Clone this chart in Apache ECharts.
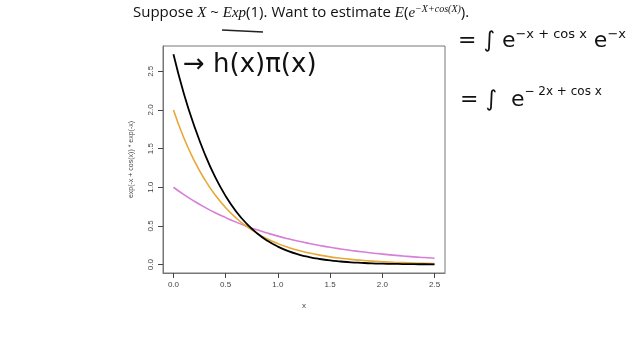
<!DOCTYPE html>
<html>
<head>
<meta charset="utf-8">
<script src="https://cdn.jsdelivr.net/npm/echarts@6/dist/echarts.min.js"></script>
<style>
html, body { margin: 0; padding: 0; background: #fff; }
#chart { width: 640px; height: 360px; }
</style>
</head>
<body>
<div id="chart"></div>
<script>
// x grid
var xs = [0, 0.1, 0.2, 0.3, 0.4, 0.5, 0.6, 0.7, 0.8, 0.9, 1.0, 1.1, 1.2,
    1.3, 1.4, 1.5, 1.6, 1.7, 1.8, 1.9, 2.0, 2.1, 2.2, 2.3, 2.4, 2.5];
// black curve, h(x)pi(x)
var blackVals = [2.72, 2.21, 1.79, 1.43, 1.13, 0.885, 0.687, 0.53, 0.405, 0.308,
    0.232, 0.174, 0.13, 0.097, 0.072, 0.053, 0.04, 0.029, 0.022, 0.016,
    0.012, 0.009, 0.007, 0.005, 0.004, 0.003];
// orange curve
var orangeVals = [2.0, 1.637, 1.341, 1.098, 0.899, 0.736, 0.602, 0.493, 0.404, 0.331,
    0.271, 0.222, 0.181, 0.149, 0.122, 0.1, 0.082, 0.067, 0.055, 0.045,
    0.037, 0.03, 0.025, 0.02, 0.016, 0.013];
// pink curve
var pinkVals = [1.0, 0.905, 0.819, 0.741, 0.67, 0.607, 0.549, 0.497, 0.449, 0.407,
    0.368, 0.333, 0.301, 0.273, 0.247, 0.223, 0.202, 0.183, 0.165, 0.15,
    0.135, 0.122, 0.111, 0.1, 0.091, 0.082];
var xTicks = [0, 0.5, 1.0, 1.5, 2.0, 2.5];
var yTicks = [0, 0.5, 1.0, 1.5, 2.0, 2.5];

function pairs(vals) {
    return xs.map(function (x, i) { return [x, vals[i]]; });
}

var chart = echarts.init(document.getElementById("chart"));

var hand = '"Comic Sans MS", "DejaVu Sans", sans-serif';

var option = {
    backgroundColor: "#fff",
    animation: false,
    grid: {
        left: 163, right: 195, top: 46, bottom: 87,
        show: true, borderColor: "#777", borderWidth: 1
    },
    xAxis: {
        type: "value",
        min: -0.1, max: 2.6,
        name: "x",
        nameLocation: "middle",
        nameGap: 29,
        nameTextStyle: { fontSize: 8, color: "#444", fontFamily: "Liberation Sans" },
        splitLine: { show: false },
        axisLine: { show: true, onZero: false, lineStyle: { color: "#777", width: 1 } },
        axisTick: { show: true, length: 5, customValues: xTicks, lineStyle: { color: "#444" } },
        axisLabel: {
            customValues: xTicks, fontSize: 8, color: "#444", margin: 8,
            fontFamily: "Liberation Sans",
            formatter: function (v) { return v.toFixed(1); }
        }
    },
    yAxis: {
        type: "value",
        min: -0.109, max: 2.827,
        name: "exp(-x + cos(x)) * exp(-x)",
        nameLocation: "middle",
        nameGap: 28,
        nameRotate: 90,
        nameTextStyle: { fontSize: 7, color: "#444", fontFamily: "Liberation Sans" },
        splitLine: { show: false },
        axisLine: { show: true, onZero: false, lineStyle: { color: "#777", width: 1 } },
        axisTick: { show: true, length: 5, customValues: yTicks, lineStyle: { color: "#444" } },
        axisLabel: {
            customValues: yTicks, fontSize: 8, color: "#444", margin: 8, rotate: 90,
            fontFamily: "Liberation Sans",
            formatter: function (v) { return v.toFixed(1); }
        }
    },
    series: [
        {
            type: "line", data: pairs(pinkVals), smooth: true, showSymbol: false,
            lineStyle: { color: "#d77fd6", width: 1.6 }, z: 2
        },
        {
            type: "line", data: pairs(orangeVals), smooth: true, showSymbol: false,
            lineStyle: { color: "#e8a838", width: 1.6 }, z: 3
        },
        {
            type: "line", data: pairs(blackVals), smooth: true, showSymbol: false,
            lineStyle: { color: "#000", width: 1.8 }, z: 4
        }
    ],
    graphic: [
        {
            type: "text", left: 133, top: 4,
            style: {
                text: "Suppose {i|X} ~ {i|Exp}(1). Want to estimate {i|E}({i|e}{sup|−X+cos(X)}).",
                fontSize: 15, fill: "#111", fontFamily: "Open Sans",
                rich: {
                    i: { fontStyle: "italic", fontSize: 15, fontFamily: "Liberation Serif" },
                    sup: { fontSize: 10, verticalAlign: "top", padding: [0, 0, 8, 0], fontFamily: "Liberation Serif", fontStyle: "italic" }
                }
            }
        },
        // underline under Exp(1)
        {
            type: "line",
            shape: { x1: 222, y1: 30, x2: 263, y2: 32 },
            style: { stroke: "#222", lineWidth: 1.5 }
        },
        {
            type: "text", left: 183, top: 52,
            style: {
                text: "→ h(x)π(x)", fontSize: 26, fill: "#111", fontFamily: hand
            }
        },
        {
            type: "text", left: 458, top: 28,
            style: {
                text: "= ∫ e{s|−x + cos x} e{s|−x}", fontSize: 22, fill: "#111", fontFamily: hand,
                rich: { s: { fontSize: 13, verticalAlign: "top", padding: [0, 0, 14, 0], fontFamily: hand } }
            }
        },
        {
            type: "text", left: 460, top: 86,
            style: {
                text: "= ∫  e{s|− 2x + cos x}", fontSize: 22, fill: "#111", fontFamily: hand,
                rich: { s: { fontSize: 12, verticalAlign: "top", padding: [0, 0, 16, 0], fontFamily: hand } }
            }
        }
    ]
};

chart.setOption(option);
</script>
</body>
</html>
